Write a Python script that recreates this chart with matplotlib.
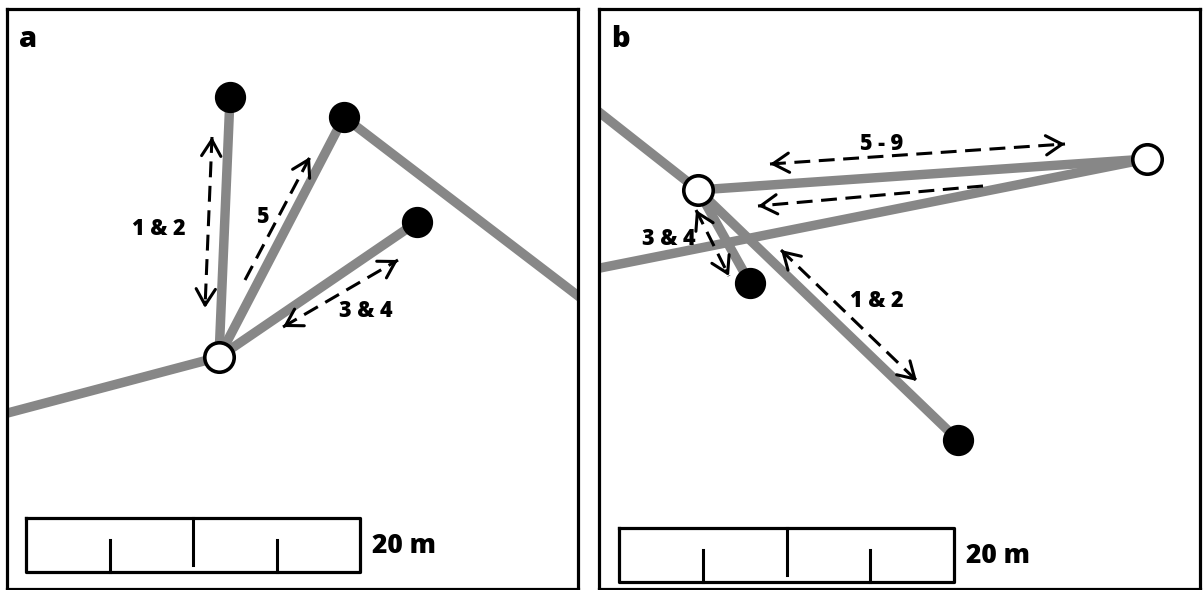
import matplotlib
matplotlib.use("Agg")
from matplotlib import pyplot as plt

# all coordinates are in picture pixels (x right, y down)
W, H = 1203, 590

# panel a: nodes
a_open = (219, 357)
a_dots_x = [230, 344, 417]
a_dots_y = [97, 117, 222]
# panel a: grey tracks (polylines)
a_tracks = [
    [(0, 415), (219, 357)],
    [(219, 357), (230, 97)],
    [(219, 357), (344, 117), (590, 305)],
    [(219, 357), (417, 222)],
]
# panel a: dashed movement arrows (x0, y0, x1, y1, heads)
a_arrows = [
    (212, 137, 205, 308, "both"),
    (245, 280, 310, 157, "end"),
    (283, 327, 398, 260, "both"),
]
a_labels = [(159, 235, "1 & 2"), (262, 223, "5"), (366, 317, "3 & 4")]

# panel b: nodes
b_open_x = [698, 1147]
b_open_y = [190, 159]
b_dots_x = [750, 958]
b_dots_y = [283, 440]
b_tracks = [
    [(590, 105), (698, 190), (958, 440)],
    [(698, 190), (750, 283)],
    [(698, 190), (1147, 159)],
    [(590, 270), (1147, 159)],
]
b_arrows = [
    (770, 164, 1065, 144, "both"),
    (983, 186, 758, 206, "end"),
    (696, 210, 729, 276, "both"),
    (781, 250, 917, 381, "both"),
]
b_labels = [(882, 150, "5 - 9"), (669, 245, "3 & 4"), (877, 307, "1 & 2")]

# scale bars: (left, top, right, bottom), label position
a_bar = (26, 518, 360, 572)
b_bar = (619, 528, 954, 582)
a_bar_text = (372, 553)
b_bar_text = (966, 563)

GREY = "#878787"
FONT = "Open Sans"


def head(ax, x0, y0, x1, y1):
    # short solid open arrowhead at (x1, y1)
    dx, dy = x1 - x0, y1 - y0
    n = (dx * dx + dy * dy) ** 0.5
    ax.annotate("", xy=(x1, y1), xytext=(x1 - dx / n * 6, y1 - dy / n * 6),
                arrowprops=dict(arrowstyle="->,head_length=0.55,head_width=0.33",
                                lw=2.2, color="black", shrinkA=0, shrinkB=0,
                                mutation_scale=21))


def draw_panel(ax, left, right, tracks, arrows, labels, bar, bar_text, letter):
    ax.set_xlim(left, right)
    ax.set_ylim(589, 9)
    ax.set_xticks([])
    ax.set_yticks([])
    for s in ax.spines.values():
        s.set_linewidth(2.3)

    for tr in tracks:
        xs = [p[0] for p in tr]
        ys = [p[1] for p in tr]
        ax.plot(xs, ys, color=GREY, lw=6.8, solid_capstyle="butt", zorder=2)

    for x0, y0, x1, y1, kind in arrows:
        ax.plot([x0, x1], [y0, y1], color="black", lw=2.2, ls=(0, (5.2, 2.8)), zorder=3)
        head(ax, x0, y0, x1, y1)
        if kind == "both":
            head(ax, x1, y1, x0, y0)

    for x, y, t in labels:
        ax.text(x, y, t, ha="center", va="baseline", fontsize=15.5,
                fontweight="heavy", family=FONT, zorder=5)

    # scale bar
    l, t, r, b = bar
    ax.plot([l, r, r, l, l], [t, t, b, b, t], color="black", lw=2.3, zorder=4)
    q = (r - l) / 4
    ax.plot([l + 2 * q, l + 2 * q], [t, b - 7], color="black", lw=2.2, zorder=4)
    for k in (1, 3):
        ax.plot([l + k * q, l + k * q], [b - 32, b], color="black", lw=2.2, zorder=4)
    ax.text(bar_text[0], bar_text[1], "20 m", ha="left", va="baseline",
            fontsize=19, fontweight="heavy", family=FONT)

    ax.text(left + 12, 47, letter, ha="left", va="baseline", fontsize=21,
            fontweight="heavy", family=FONT)


fig = plt.figure(figsize=(W / 100, H / 100), dpi=100)
ax_a = fig.add_axes([7 / W, 1 / H, (578 - 7) / W, (589 - 9) / H])
ax_b = fig.add_axes([599 / W, 1 / H, (1200 - 599) / W, (589 - 9) / H])

draw_panel(ax_a, 7, 578, a_tracks, a_arrows, a_labels, a_bar, a_bar_text, "a")
draw_panel(ax_b, 599, 1200, b_tracks, b_arrows, b_labels, b_bar, b_bar_text, "b")

ax_a.plot(a_dots_x, a_dots_y, "o", ms=21.5, color="black", zorder=6)
ax_a.plot([a_open[0]], [a_open[1]], "o", ms=21.2, mfc="white", mec="black", mew=2.6, zorder=6)
ax_b.plot(b_dots_x, b_dots_y, "o", ms=21.5, color="black", zorder=6)
ax_b.plot(b_open_x, b_open_y, "o", ms=21.2, mfc="white", mec="black", mew=2.6, zorder=6)

fig.savefig("out.png", dpi=100)
